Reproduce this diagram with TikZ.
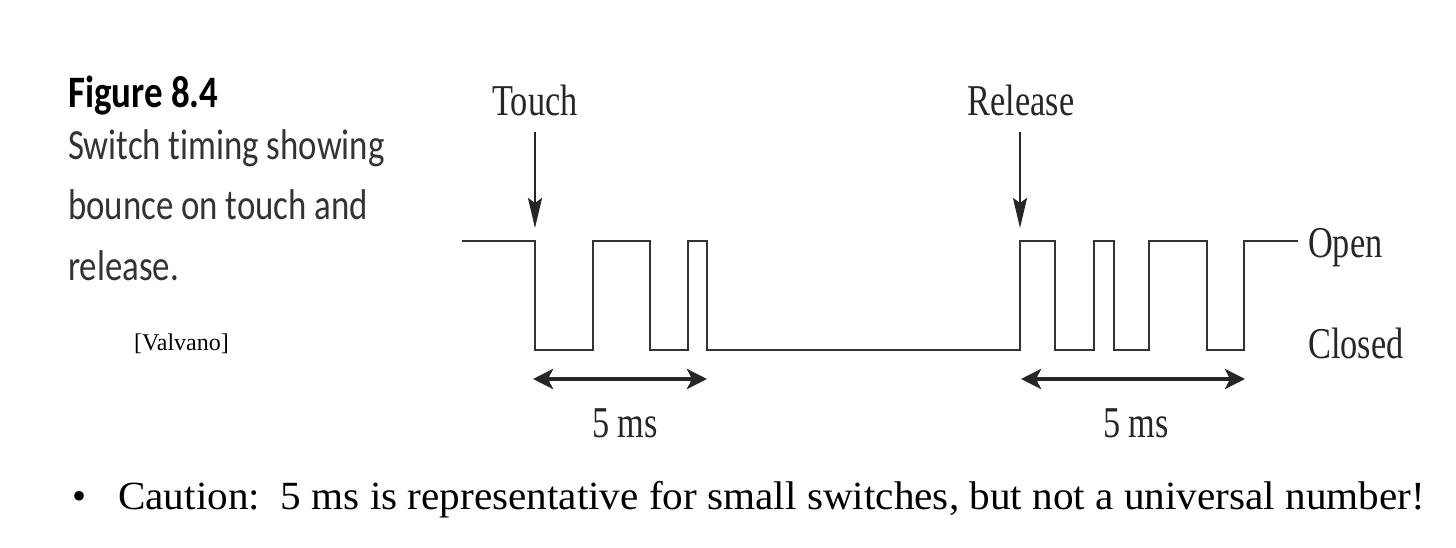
\documentclass[tikz,border=0pt]{standalone}
\usepackage{fontspec}
\setmainfont{Liberation Serif}
\newfontfamily\narrowserif[FakeStretch=0.78]{Liberation Serif}
\newfontfamily\cautionfont[FakeStretch=1.03]{Liberation Serif}
\newfontfamily\capfont[FakeStretch=0.81,Ligatures=NoCommon]{Carlito}
\newfontfamily\figfont[FakeStretch=0.82]{Carlito}
\usetikzlibrary{arrows.meta}
\begin{document}
\begin{tikzpicture}[x=1pt,y=-1pt,
  wave/.style={line width=2.6pt,draw=black!80,line join=miter},
  pointer/.style={line width=2.6pt,draw=black!85,-{Stealth[length=30pt,width=14pt,inset=5pt]}},
  span/.style={line width=4.8pt,draw=black!85,{Stealth[length=20pt,width=20pt,inset=5pt]}-{Stealth[length=20pt,width=20pt,inset=5pt]}},
  lbl/.style={inner sep=0pt,anchor=base,font=\narrowserif\fontsize{44}{50}\selectfont,text=black!85},
  lvl/.style={inner sep=0pt,anchor=base west,font=\narrowserif\fontsize{44}{50}\selectfont,text=black!85},
  capline/.style={inner sep=0pt,anchor=base west,font=\capfont\fontsize{43}{48}\selectfont,text=black!80},
]
\useasboundingbox (0,0) rectangle (1456,548);
% caption
\node[inner sep=0pt,anchor=base west,font=\figfont\bfseries\fontsize{45}{50}\selectfont] (fig) at (68,108) {Figure 8.4};
\node[capline] (c1) at (68,160) {Switch timing showing};
\node[capline] (c2) at (68,220) {bounce on touch and};
\node[capline] (c3) at (68,280) {release.};
\node[inner sep=0pt,anchor=base west,font=\fontsize{24}{28}\selectfont] (val) at (134,350) {[Valvano]};
% labels
\node[lbl] (touch) at (535,116) {Touch};
\node[lbl] (release) at (1021,116) {Release};
\node[lvl] (open) at (1308,258) {Open};
\node[lvl] (closed) at (1308,358) {Closed};
\node[lbl] (ms1) at (625,437) {5 ms};
\node[lbl] (ms2) at (1136,437) {5 ms};
% waveform
\coordinate (t0) at (462,241);
\coordinate (tt) at (535,241);
\coordinate (rr) at (1020,241);
\draw[wave] (t0) -- (tt) -- (535,350) -- (593,350) -- (593,241) -- (650,241) -- (650,350) -- (688,350) -- (688,241) -- (707,241) -- (707,350) -- (1020,350) -- (rr) -- (1055,241) -- (1055,350) -- (1094,350) -- (1094,241) -- (1114,241) -- (1114,350) -- (1149,350) -- (1149,241) -- (1207,241) -- (1207,350) -- (1244,350) -- (1244,241) -- ([xshift=-10pt]open.west |- 0,241);
% pointers
\coordinate (ts) at (535,132);
\coordinate (te) at (535,228);
\coordinate (rs) at (1020,132);
\coordinate (re) at (1020,228);
\draw[pointer] (ts) -- (te);
\draw[pointer] (rs) -- (re);
% spans
\coordinate (a1) at (533,379);
\coordinate (b1) at (707,379);
\coordinate (a2) at (1021,379);
\coordinate (b2) at (1245,379);
\draw[span] (a1) -- (b1);
\draw[span] (a2) -- (b2);
% caution
\node[inner sep=0pt,anchor=base,font=\fontsize{40}{44}\selectfont] (bul) at (80,509) {\textbullet};
\node[inner sep=0pt,anchor=base west,font=\cautionfont\fontsize{40}{46}\selectfont] (caution) at (118,509) {Caution:\ \ 5 ms is representative for small switches, but not a universal number!};
\end{tikzpicture}
\end{document}
